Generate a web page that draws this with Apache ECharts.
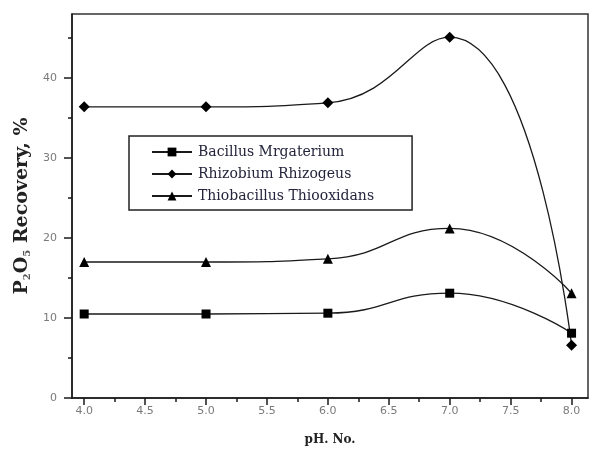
<!DOCTYPE html>
<html>
<head>
<meta charset="utf-8">
<script src="https://cdn.jsdelivr.net/npm/echarts@6/dist/echarts.min.js"></script>
<style>
  html, body { margin: 0; padding: 0; background: #fff; }
  #chart { width: 590px; height: 457px; }
</style>
</head>
<body>
<div id="chart"></div>
<script>
// pH values and P2O5 recovery (%) for each organism
const phValues = [4.0, 5.0, 6.0, 7.0, 8.0];
const bacillus = [10.5, 10.5, 10.6, 13.1, 8.1];
const rhizobium = [36.4, 36.4, 36.9, 45.1, 6.6];
const thiobacillus = [17.0, 17.0, 17.4, 21.2, 13.1];

const seriesNames = ['Bacillus Mrgaterium', 'Rhizobium Rhizogeus', 'Thiobacillus Thiooxidans'];
const seriesMarkers = ['rect', 'diamond', 'triangle'];
const seriesValues = [bacillus, rhizobium, thiobacillus];

// axis ticks and labels
const xLabelTicks = [4.0, 4.5, 5.0, 5.5, 6.0, 6.5, 7.0, 7.5, 8.0];
const xMinorTicks = [4.25, 4.75, 5.25, 5.75, 6.25, 6.75, 7.25, 7.75];
const yLabelTicks = [0, 10, 20, 30, 40];
const yMinorTicks = [5, 15, 25, 35, 45];

const ink = '#1a1a1a';
const labelGrey = '#7a7a7a';
const serif = 'DejaVu Serif';

const chart = echarts.init(document.getElementById('chart'));

const xBase = { type: 'value', min: 3.9, max: 8.135, gridIndex: 0, splitLine: { show: false } };
const yBase = { type: 'value', min: 0, max: 48, gridIndex: 0, splitLine: { show: false } };

chart.setOption({
  animation: false,
  backgroundColor: '#fff',
  grid: {
    left: 72, top: 14, right: 2, bottom: 59,
    show: true, borderColor: '#333', borderWidth: 1.5, backgroundColor: 'transparent'
  },
  legend: {
    orient: 'vertical',
    left: 129, top: 136,
    padding: [9, 38, 7, 22],
    itemGap: 8,
    itemWidth: 40,
    itemHeight: 11,
    borderColor: '#222',
    borderWidth: 1.5,
    textStyle: { fontFamily: serif, fontSize: 14, color: '#24243c', padding: [0, 0, 0, 1] },
    data: seriesNames
  },
  xAxis: [
    Object.assign({}, xBase, {
      position: 'bottom',
      name: 'pH. No.',
      nameLocation: 'middle',
      nameGap: 36,
      nameTextStyle: { fontFamily: serif, fontWeight: 'bold', fontSize: 12, color: '#222' },
      axisLine: { show: true, onZero: false, lineStyle: { color: ink, width: 1.5 } },
      axisTick: { show: true, inside: false, length: 7, customValues: xLabelTicks, lineStyle: { color: ink, width: 1.5 } },
      axisLabel: { show: true, customValues: xLabelTicks, margin: 8, fontFamily: 'DejaVu Sans', fontSize: 11, color: labelGrey,
        formatter: v => v.toFixed(1) }
    }),
    Object.assign({}, xBase, {
      position: 'bottom',
      axisLine: { show: false, onZero: false },
      axisTick: { show: true, inside: false, length: 4, customValues: xMinorTicks, lineStyle: { color: ink, width: 1.5 } },
      axisLabel: { show: false }
    })
  ],
  yAxis: [
    Object.assign({}, yBase, {
      position: 'left',
      name: '{b|P}{s|2}{b|O}{s|5}{b| Recovery, %}',
      nameLocation: 'middle',
      nameGap: 40,
      nameTextStyle: {
        rich: {
          b: { fontFamily: serif, fontWeight: 'bold', fontSize: 19, color: '#222' },
          s: { fontFamily: serif, fontWeight: 'bold', fontSize: 10, color: '#555', verticalAlign: 'bottom', padding: [9, 0, 0, 0] }
        }
      },
      axisLine: { show: true, onZero: false, lineStyle: { color: ink, width: 1.5 } },
      axisTick: { show: true, inside: false, length: 8, customValues: yLabelTicks, lineStyle: { color: ink, width: 1.5 } },
      axisLabel: { show: true, customValues: yLabelTicks, margin: 15, fontFamily: 'DejaVu Sans', fontSize: 11, color: labelGrey }
    }),
    Object.assign({}, yBase, {
      position: 'left',
      axisLine: { show: false, onZero: false },
      axisTick: { show: true, inside: false, length: 4, customValues: yMinorTicks, lineStyle: { color: ink, width: 1.5 } },
      axisLabel: { show: false }
    })
  ],
  series: seriesNames.map((name, i) => ({
    name: name,
    type: 'line',
    xAxisIndex: 0,
    yAxisIndex: 0,
    smooth: 0.5,
    symbol: seriesMarkers[i],
    symbolSize: i === 1 ? 11 : (i === 2 ? 10 : 9),
    lineStyle: { color: ink, width: 1.3 },
    itemStyle: { color: '#000' },
    data: phValues.map((x, k) => [x, seriesValues[i][k]])
  }))
});
</script>
</body>
</html>
